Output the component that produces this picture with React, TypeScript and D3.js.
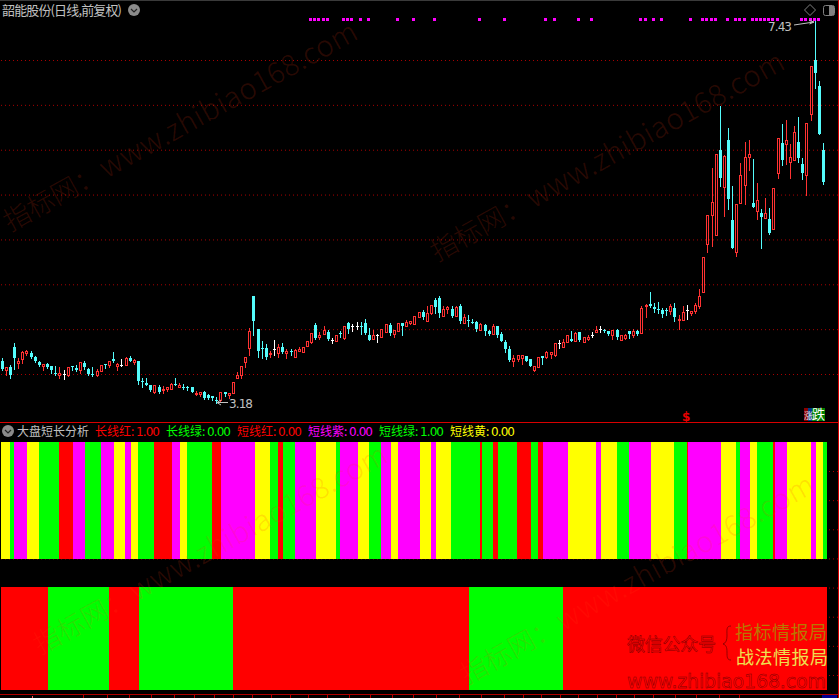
import React from "react";
import * as d3 from "d3";

const opens = [3.65,3.55,3.58,3.80,3.62,3.67,3.73,3.73,3.69,3.63,3.59,3.61,3.59,3.51,3.49,3.50,3.49,3.59,3.57,3.55,
3.62,3.56,3.50,3.49,3.53,3.61,3.60,3.67,3.59,3.60,3.60,3.68,3.63,3.64,3.42,3.40,3.38,3.30,3.35,3.32,
3.33,3.33,3.39,3.36,3.36,3.36,3.35,3.28,3.28,3.30,3.27,3.26,3.21,3.21,3.30,3.27,3.29,3.45,3.49,3.63,
3.79,4.37,4.00,3.79,3.79,3.72,3.78,3.73,3.80,3.73,3.76,3.69,3.76,3.75,3.81,3.86,4.05,3.91,3.95,3.97,
3.88,3.87,3.96,3.90,4.07,4.03,4.04,4.04,4.07,3.94,3.89,3.94,3.91,3.97,4.05,3.95,3.98,4.07,4.03,4.07,
4.06,4.14,4.19,4.09,4.18,4.33,4.35,4.15,4.23,4.23,4.15,4.26,4.07,4.10,4.08,4.08,3.99,4.05,3.98,3.95,
4.03,3.95,3.86,3.78,3.65,3.67,3.68,3.70,3.67,3.55,3.58,3.70,3.69,3.72,3.71,3.84,3.80,3.86,3.89,3.87,
3.97,3.86,3.89,3.93,3.97,4.00,3.99,3.98,3.93,3.99,3.88,3.90,3.98,3.93,3.98,3.96,4.26,4.28,4.25,4.23,
4.21,4.21,4.20,4.24,4.10,4.10,4.21,4.18,4.20,4.26,4.41,4.95,5.27,5.05,6.00,5.58,6.11,5.22,4.86,5.41,
5.61,5.92,5.41,5.32,5.29,5.24,5.23,5.12,5.74,6.07,6.06,5.86,5.89,6.09,5.84,5.72,6.40,7.00,6.71,6.00];
const highs = [3.68,3.58,3.60,3.84,3.68,3.76,3.77,3.76,3.70,3.65,3.61,3.62,3.59,3.59,3.58,3.54,3.58,3.59,3.60,3.63,
3.65,3.57,3.58,3.56,3.60,3.61,3.64,3.74,3.62,3.67,3.69,3.70,3.67,3.65,3.46,3.45,3.38,3.38,3.38,3.37,
3.36,3.40,3.46,3.40,3.39,3.37,3.36,3.31,3.30,3.31,3.28,3.26,3.24,3.30,3.30,3.29,3.41,3.52,3.59,3.69,
4.01,4.37,4.00,3.87,3.83,3.76,3.88,3.83,3.84,3.78,3.78,3.78,3.80,3.80,3.87,3.96,4.07,3.97,4.04,3.99,
3.90,3.93,3.98,4.04,4.08,4.06,4.08,4.08,4.11,4.01,3.99,3.95,4.00,4.06,4.07,3.99,4.07,4.07,4.10,4.09,
4.15,4.19,4.21,4.26,4.27,4.35,4.37,4.26,4.26,4.26,4.26,4.28,4.17,4.16,4.11,4.09,4.07,4.06,3.99,4.06,
4.04,3.97,3.88,3.81,3.71,3.71,3.71,3.70,3.67,3.59,3.69,3.70,3.76,3.74,3.84,3.88,3.89,3.94,3.98,3.97,
3.97,3.91,3.94,3.97,4.04,4.04,4.00,3.98,3.99,4.00,3.93,3.95,3.98,4.00,3.99,4.26,4.28,4.41,4.29,4.30,
4.24,4.24,4.28,4.29,4.16,4.26,4.27,4.20,4.29,4.45,4.80,5.27,5.80,5.95,6.49,5.94,6.24,5.60,5.40,5.85,
6.09,6.11,5.90,5.63,5.34,5.46,5.35,5.57,6.13,6.29,6.33,6.06,6.26,6.37,5.91,6.30,6.93,7.43,6.77,6.07];
const lows = [3.54,3.49,3.46,3.56,3.57,3.62,3.71,3.68,3.63,3.59,3.55,3.57,3.51,3.49,3.46,3.44,3.48,3.54,3.53,3.51,
3.56,3.49,3.48,3.48,3.53,3.57,3.58,3.63,3.54,3.59,3.60,3.65,3.61,3.39,3.36,3.38,3.31,3.29,3.29,3.29,
3.31,3.33,3.38,3.35,3.33,3.32,3.30,3.27,3.25,3.22,3.22,3.21,3.18,3.20,3.26,3.23,3.29,3.45,3.46,3.58,
3.71,3.93,3.69,3.68,3.67,3.69,3.71,3.69,3.73,3.68,3.71,3.69,3.76,3.75,3.81,3.85,3.89,3.89,3.95,3.88,
3.85,3.87,3.91,3.89,3.96,3.98,4.00,3.95,3.95,3.88,3.89,3.86,3.91,3.97,3.94,3.91,3.98,3.94,4.03,4.06,
4.06,4.14,4.11,4.09,4.17,4.18,4.13,4.15,4.18,4.13,4.15,4.07,4.07,4.04,4.07,3.98,3.99,3.94,3.94,3.95,
3.91,3.87,3.75,3.65,3.59,3.64,3.61,3.64,3.59,3.53,3.58,3.61,3.68,3.68,3.70,3.79,3.80,3.86,3.87,3.87,
3.87,3.86,3.88,3.91,3.97,3.97,3.97,3.93,3.89,3.89,3.88,3.89,3.90,3.91,3.94,3.96,4.13,4.25,4.19,4.18,
4.13,4.16,4.17,4.09,4.00,4.10,4.11,4.16,4.18,4.24,4.41,4.86,4.93,5.05,5.60,5.26,5.34,4.91,4.81,5.41,
5.40,5.77,5.36,5.23,4.91,5.24,5.06,5.12,5.69,5.83,5.84,5.69,5.89,5.86,5.67,5.50,6.33,6.69,6.17,5.62];
const closes = [3.56,3.58,3.49,3.68,3.64,3.74,3.76,3.69,3.64,3.60,3.61,3.58,3.54,3.50,3.51,3.50,3.58,3.58,3.54,3.63,
3.58,3.50,3.49,3.53,3.60,3.60,3.64,3.65,3.61,3.60,3.68,3.65,3.66,3.42,3.41,3.38,3.32,3.38,3.30,3.33,
3.35,3.39,3.38,3.38,3.34,3.34,3.30,3.29,3.30,3.23,3.23,3.23,3.20,3.30,3.28,3.29,3.41,3.49,3.59,3.69,
3.98,4.09,3.76,3.78,3.69,3.73,3.78,3.80,3.74,3.76,3.74,3.77,3.78,3.80,3.87,3.96,3.90,3.94,3.99,3.89,
3.88,3.93,3.95,4.04,4.00,4.03,4.04,4.03,3.96,3.88,3.93,3.94,4.00,4.06,3.96,3.99,4.07,4.04,4.08,4.09,
4.15,4.19,4.14,4.18,4.27,4.25,4.18,4.23,4.25,4.15,4.25,4.09,4.14,4.09,4.07,4.00,4.06,3.98,3.95,4.04,
3.94,3.87,3.78,3.66,3.68,3.71,3.71,3.65,3.59,3.59,3.69,3.68,3.74,3.74,3.84,3.84,3.86,3.93,3.87,3.96,
3.88,3.91,3.91,3.93,3.99,4.00,3.98,3.95,3.99,3.91,3.93,3.94,3.95,3.98,3.95,4.24,4.27,4.26,4.23,4.21,
4.17,4.20,4.26,4.13,4.11,4.19,4.21,4.20,4.27,4.37,4.80,5.27,5.42,5.95,5.69,5.93,5.45,4.91,5.40,5.72,
5.92,5.95,5.36,5.44,5.25,5.30,5.07,5.57,6.13,5.89,6.11,5.92,6.20,5.91,5.74,6.30,6.93,6.86,6.17,5.64];

const priceTicks = [7, 6.5, 6, 5.5, 5, 4.5, 4, 3.5];
const signalDays = [75,76,77,78,79,83,84,85,87,89,96,100,105,116,122,132,134,140,143,155,156,158,160,167,170,171,172,173,176,178,179,180,182,183,184,185,186,187,188,194,195,196,197,198];

const stripeColors = "YGMYGRMGMYMYGRMYGRMYGRGMYGMYGMYMYMYGRGRGRGRMYMYGMYGRMYGMYGRMYMYG";
const stripeEnds = [2.18,3.15,6.30,9.20,14.04,17.43,20.34,24.21,27.36,30.02,31.48,33.17,37.05,41.40,43.34,45.04,51.09,53.27,61.50,65.13,67.19,68.28,71.19,76.27,81.11,82.08,86.44,89.10,92.0,94.43,96.13,101.45,104.12,105.33,108.96,115.98,116.46,119.13,120.34,124.94,128.33,130.02,131.23,137.29,144.07,145.28,149.15,152.06,157.38,162.95,166.1,166.34,174.33,177.97,178.93,181.36,183.05,186.92,187.4,190.31,196.13,197.34,199.03,200];
const trendColors = "RGRGRGR";
const trendEnds = [11.38,26.15,33.41,56.2,113.32,136.08,200];
const dateTicks = [19.65,25.3,30.8,36.1,41.7,46.5,51.2,56,60.6,65.2,69.8,74.2,78.8,84.1,89.2,94.5,99.6,105.2,110.8,116.1,121.7,126.3,130.6,135.2,139.6,144.2,148.8,153.2,157.8,163.1,168.2,173.6,178.6];
const lowerGrid = [1,2,3,4,5,6,7,8];
const legendNames = ["长线红","长线绿","短线红","短线紫","短线绿","短线黄"];
const legendValues = ["1.00","0.00","0.00","0.00","1.00","0.00"];

const W = 839, H = 698;
const CJK = "'Noto Sans CJK SC','Noto Sans',sans-serif";
const RED = "#ff3232", CYAN = "#54fcfc";
const PAL: Record<string,string> = { R:"#ff0000", G:"#00ff00", M:"#ff00ff", Y:"#ffff00" };
const legendCols = ["#ff0000","#00ff00","#ff0000","#ff00ff","#00ff00","#ffff00"];
const legendX = [95,166,237,308,379,450];

const xc = d3.scaleLinear().domain([0,199]).range([2.2,823.47]);
const col = (i:number) => Math.floor(xc(i));
const y = d3.scaleLinear().domain([7,3.5]).range([60.5,374.5]);
const ry = (p:number) => Math.round(y(p)-0.5);
const band = d3.scaleLinear().domain([0,200]).range([1,827]);
const gridY = d3.scaleLinear().domain([1,8]).range([471,675]);

const Chevron = ({cx,cy}:{cx:number;cy:number}) => (
  <g>
    <circle cx={cx} cy={cy} r={6} fill="#8a8a8a"/>
    <path d={`M${cx-3} ${cy-1}L${cx} ${cy+2}L${cx+3} ${cy-1}`} fill="none" stroke="#222" strokeWidth={1.2}/>
  </g>
);

const Candle = ({i}:{i:number}) => {
  const o=opens[i],h=highs[i],l=lows[i],c=closes[i];
  const x=col(i);
  const top=ry(Math.max(o,c)), bot=ry(Math.min(o,c));
  const yh=ry(h), yl=ry(l);
  const wick=(a:number,b:number,fill:string)=> b>a ? <rect x={x} y={a} width={1} height={b-a} fill={fill}/> : null;
  if (c>o) return <g>
    {wick(yh,top,RED)}{wick(bot,yl+1,RED)}
    <rect x={x-0.5} y={top+0.5} width={2} height={Math.max(bot-top,1)} fill="#000" stroke={RED} strokeWidth={1}/>
  </g>;
  const fill = c<o ? CYAN : "#ffffff";
  return <g>
    {wick(yh,yl+1,fill)}
    <rect x={x-1} y={top} width={3} height={Math.max(bot-top,1)} fill={fill}/>
  </g>;
};

const Stripes = ({colors,ends,y0,y1}:{colors:string;ends:number[];y0:number;y1:number}) => (
  <g shapeRendering="crispEdges">
    {ends.map((e,k)=>{
      const a=Math.round(band(k?ends[k-1]:0)), b=Math.round(band(e));
      return <rect key={k} x={a} y={y0} width={b-a} height={y1-y0} fill={PAL[colors[k]]}/>;
    })}
  </g>
);

const Watermark = ({x,yy}:{x:number;yy:number}) => (
  <text transform={`translate(${x},${yy}) rotate(-29)`} fontFamily={CJK} fontSize={29} fontWeight={300}
    fill="rgb(255,60,20)" fillOpacity={0.17}>
    <tspan fontSize={27}>指标网：</tspan><tspan dx={2} letterSpacing={0.6}>www.zhibiao168.com</tspan>
  </text>
);

export default function App(){
  return (
    <svg width={W} height={H} viewBox={`0 0 ${W} ${H}`} style={{position:"fixed",left:0,top:0,background:"#000",display:"block"}}>
      <rect width={W} height={H} fill="#000"/>
      <rect x={0} y={0} width={W} height={1} fill="#3a3a3a"/>
      {priceTicks.map(p=>(
        <line key={p} x1={1} x2={838} y1={y(p)} y2={y(p)} stroke="#a80000" strokeWidth={1} strokeDasharray="1 3"/>
      ))}
      {lowerGrid.map(k=>(
        <line key={k} x1={1} x2={838} y1={gridY(k)+0.5} y2={gridY(k)+0.5} stroke="#a80000" strokeWidth={1} strokeDasharray="1 3"/>
      ))}
      <rect x={0} y={422} width={838} height={1} fill="#d80000"/>
      <rect x={838} y={0} width={1} height={H} fill="#d80000"/>

      <Stripes colors={stripeColors} ends={stripeEnds} y0={442} y1={559}/>
      <Stripes colors={trendColors} ends={trendEnds} y0={587} y1={690}/>

      <Watermark x={10} yy={232}/>
      <Watermark x={437} yy={262}/>
      <Watermark x={40} yy={655}/>
      <Watermark x={467} yy={685}/>

      <g shapeRendering="crispEdges">
        {opens.map((_,i)=><Candle key={i} i={i}/>)}
        {signalDays.map(i=><rect key={i} x={col(i)-2} y={18} width={3} height={3} fill="#ff00ff"/>)}
      </g>

      <text x={2} y={15} fontFamily={CJK} fontSize={13} fill="#c0c0c0" textLength={120} lengthAdjust="spacing">韶能股份(日线,前复权)</text>
      <Chevron cx={134} cy={10}/>

      <path d="M810 4.500L815.500 10L810 15.500L804.500 10Z" fill="none" stroke="#808080"/>
      <rect x={823.500} y={5.500} width={11} height={10} rx={2} fill="none" stroke="#808080"/>
      <rect x={829} y={6} width={5} height={9} fill="#808080"/>

      <text x={768} y={31} fontFamily="'DejaVu Sans',sans-serif" fontSize={12} fill="#c0c0c0" textLength={24} lengthAdjust="spacing">7.43</text>
      <path d="M794 25L814 22M809 20.500L814 22L809.500 24" fill="none" stroke="#c0c0c0"/>
      <text x={229} y={408} fontFamily="'DejaVu Sans',sans-serif" fontSize={12} fill="#c0c0c0" textLength={24} lengthAdjust="spacing">3.18</text>
      <path d="M228 402.500L217 402.500M221 400L217 402.500L221 405" fill="none" stroke="#c0c0c0"/>

      <text x={682} y={421} fontFamily="'DejaVu Sans',sans-serif" fontSize={12} fontWeight={700} fill="#e80000">$</text>
      <g shapeRendering="crispEdges">
        <rect x={804} y={408} width={4} height={13} fill="#8a0000"/>
        <rect x={808} y={408} width={4} height={13} fill="#003a8a"/>
        <rect x={812} y={408} width={13} height={13} fill="#008000"/>
      </g>
      <text x={804} y={419} fontFamily={CJK} fontSize={9} fill="#e8e8e8">涨</text>
      <text x={812} y={419} fontFamily={CJK} fontSize={13} fill="#ffffff">跌</text>

      <Chevron cx={8} cy={431}/>
      <text x={17} y={436} fontFamily={CJK} fontSize={12} fill="#c0c0c0">大盘短长分析</text>
      {legendNames.map((n,k)=>(
        <g key={n+k} fontFamily={CJK} fontSize={12} fill={legendCols[k]}>
          <text x={legendX[k]} y={436}>{n}:</text>
          <text x={legendX[k]+41} y={436} fontFamily="'DejaVu Sans',sans-serif" textLength={24} lengthAdjust="spacing">{legendValues[k]}</text>
        </g>
      ))}

      <rect x={0} y={694} width={838} height={1} fill="#b00000"/>
      <g shapeRendering="crispEdges">
        {dateTicks.map(t=><rect key={t} x={Math.round(xc(t))} y={695} width={1} height={3} fill="#b00000"/>)}
        <rect x={32} y={696} width={1} height={2} fill="#ff6060"/>
        <rect x={822} y={695} width={15} height={3} fill="#000090"/>
      </g>

      <text x={627} y={651} fontFamily={CJK} fontSize={18} fill="none" stroke="#7a0000" strokeWidth={0.45} textLength={89} lengthAdjust="spacing">微信公众号</text>
      <path d="M731 626C726 626 727 630 727 636C727 640 726 643 723 644C726 645 727 647 727 652C727 657 727 660 731 660" fill="none" stroke="#7a0000" strokeWidth={0.8}/>
      <text x={735} y={639} fontFamily={CJK} fontSize={18} fill="#b87800" textLength={92} lengthAdjust="spacing">指标情报局</text>
      <text x={736} y={664} fontFamily={CJK} fontSize={18} fill="#eee050" textLength={92} lengthAdjust="spacing">战法情报局</text>
      <text x={627} y={688} fontFamily="'DejaVu Sans',sans-serif" fontSize={19} fill="none" stroke="#7a0000" strokeWidth={0.45} textLength={199} lengthAdjust="spacing">www.zhibiao168.com</text>
    </svg>
  );
}
